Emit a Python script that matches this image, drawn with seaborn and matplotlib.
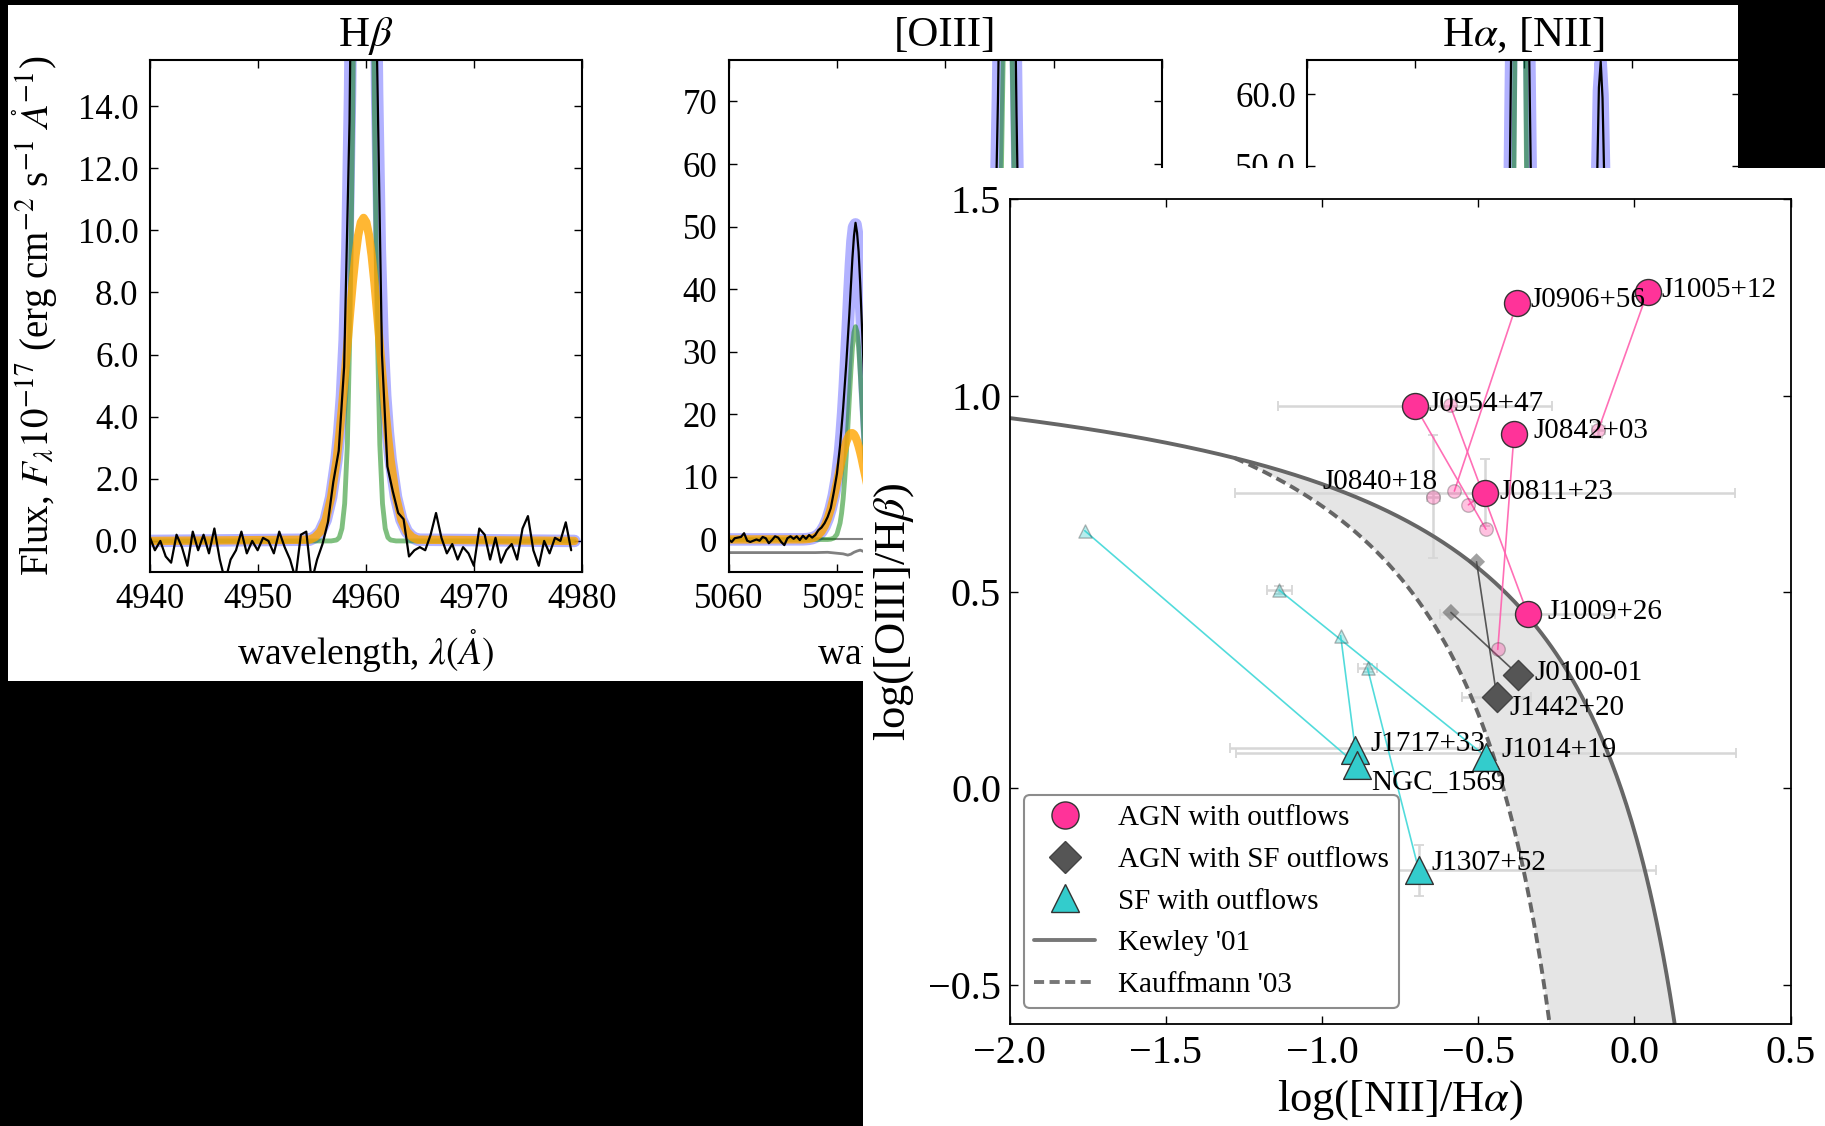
import numpy as np
import pandas as pd
import matplotlib
matplotlib.use("Agg")
import matplotlib.pyplot as plt
from matplotlib.patches import Rectangle
from matplotlib.lines import Line2D
from matplotlib.ticker import FormatStrFormatter
import seaborn as sns

# ======================= DATA =======================
# ---- H-beta panel ----
hb_data_wl = np.arange(4940.0, 4979.01, 0.5)
hb_data_flux = [0.15, -0.3, 0.0, -0.5, -0.7, 0.2, -0.2, -0.8, 0.3, -0.3,
                0.2, -0.4, 0.4, -0.6, -1.3, -0.6, -0.3, 0.3, -0.4, 0.0,
                -0.3, 0.1, 0.0, -0.4, 0.3, -0.2, -0.6, -1.2, 0.2, 0.3,
                -1.3, -0.6, -0.1, 0.6, 1.9, 2.9, 5.6, 13.5, 30.0, 48.0,
                53.0, 40.0, 16.5, 6.0, 2.4, 1.6, 0.9, 0.7, -0.5, -0.3,
                -0.2, -0.3, 0.2, 0.9, 0.1, -0.4, -0.1, -0.6, -0.2, -0.4,
                -0.8, 0.4, 0.2, -0.6, 0.1, -0.7, -0.3, -0.1, -0.6, 0.4,
                0.8, -0.3, -0.8, 0.0, -0.4, 0.1, 0.0, 0.6, -0.3]
hb_model_wl = [4940.0, 4954.8, 4955.3, 4955.8, 4956.3, 4956.8, 4957.3, 4957.55,
               4957.8, 4958.05, 4958.3, 4958.55, 4958.8, 4959.05, 4959.3, 4959.55,
               4959.8, 4960.05, 4960.3, 4960.55, 4960.8, 4961.05, 4961.3, 4961.55,
               4961.8, 4962.05, 4962.3, 4962.8, 4963.3, 4963.8, 4964.3, 4964.8, 4979.3]
hb_total = [0.0, 0.04, 0.12, 0.30, 0.68, 1.41, 2.62, 3.49, 4.67, 6.47, 9.41, 14.45,
            22.13, 32.28, 43.34, 52.06, 55.40, 52.06, 43.34, 32.28, 22.13, 14.45,
            9.41, 6.47, 4.67, 3.49, 2.62, 1.41, 0.68, 0.30, 0.12, 0.04, 0.0]
hb_narrow = [0, 0, 0, 0, 0, 0, 0.03, 0.11, 0.40, 1.2, 3.1, 7.1, 13.8, 23.1, 33.5, 41.8,
             45.0, 41.8, 33.5, 23.1, 13.8, 7.1, 3.1, 1.2, 0.40, 0.11, 0.03, 0, 0, 0, 0, 0, 0]
hb_broad = [0.0, 0.04, 0.12, 0.30, 0.68, 1.41, 2.59, 3.38, 4.27, 5.27, 6.31, 7.35,
            8.33, 9.18, 9.84, 10.26, 10.40, 10.26, 9.84, 9.18, 8.33, 7.35, 6.31, 5.27,
            4.27, 3.38, 2.59, 1.41, 0.68, 0.30, 0.12, 0.04, 0.0]

# ---- [OIII] panel ----
oiii_data_wl = [5060, 5061, 5062, 5063, 5064, 5065, 5066, 5067, 5068, 5069, 5070,
                5071, 5072, 5073, 5074, 5075, 5076, 5077, 5078, 5079, 5080, 5081,
                5082, 5083, 5084, 5085, 5086, 5087, 5088, 5089, 5090, 5091, 5092,
                5093, 5094, 5095, 5096, 5097, 5098, 5099, 5100, 5100.5, 5101, 5101.5,
                5102, 5102.5, 5103, 5103.5, 5104, 5105, 5106,
                5143, 5144, 5145, 5146, 5147, 5148, 5149, 5150, 5151, 5152, 5153,
                5154, 5155, 5156, 5157]
oiii_data_flux = [0.0, -0.4, 0.2, 0.3, 0.4, 1.0, -0.2, -0.4, -0.2, 0.0, -0.2,
                  0.4, 0.2, -0.6, -0.1, 0.5, 0.3, -0.4, -0.9, 0.2, 0.5, 0.1,
                  0.5, -0.1, 0.6, 0.1, 0.7, 0.3, 0.7, 1.5, 1.9, 2.6, 3.6,
                  5.0, 7.6, 10.5, 15.0, 21.0, 28.0, 36.0, 45.0, 48.5, 50.6, 49.0,
                  46.0, 41.0, 35.0, 29.0, 23.5, 14.0, 8.5,
                  18, 25, 33, 45, 70, 104, 135, 150, 140, 108, 68,
                  38, 22, 13, 8]
oiii_model_wl = [5060, 5084, 5085, 5086, 5087, 5088, 5089, 5090, 5091, 5092, 5093,
                 5094, 5095, 5096, 5096.5, 5097, 5097.5, 5098, 5098.5, 5099, 5099.5,
                 5100, 5100.5, 5101, 5101.5, 5102, 5102.5, 5103, 5103.5, 5104, 5105, 5106]
oiii_broad = [0.0, 0.02, 0.05, 0.1, 0.2, 0.39, 0.73, 1.27, 2.1, 3.3, 4.9, 6.85, 9.1,
              11.5, 12.7, 13.75, 14.7, 15.6, 16.2, 16.7, 16.97, 16.98, 16.8, 16.35,
              15.7, 14.9, 13.95, 12.9, 11.7, 10.55, 8.2, 6.0]
oiii_total_wl = oiii_model_wl + [5144, 5145, 5146, 5146.5, 5147, 5147.5, 5148, 5149,
                                 5150, 5151, 5152, 5152.5, 5153, 5153.5, 5154, 5155, 5156]
oiii_total = [0.0, 0.02, 0.05, 0.1, 0.2, 0.39, 0.73, 1.27, 2.1, 3.3, 4.95, 7.07, 9.93,
              14.1, 16.9, 20.25, 24.3, 29.0, 34.0, 39.2, 43.87, 47.68, 49.9, 50.35,
              48.8, 45.6, 40.85, 35.4, 29.5, 23.95, 14.7, 8.6,
              26, 35, 48, 58, 71, 87, 104, 134, 149, 141, 110, 88, 69, 53, 40, 23, 13]
oiii_narrow_wl = oiii_model_wl + [5144.15, 5145.15, 5146.15, 5146.65, 5147.15, 5147.65,
                                  5148.15, 5148.65, 5149.15, 5149.65, 5150.15, 5150.65,
                                  5151.15, 5151.65, 5152.15, 5152.65, 5153.15, 5153.65,
                                  5154.15, 5155.15, 5156.15]
oiii_narrow = [0, 0, 0, 0, 0, 0, 0, 0, 0, 0, 0.05, 0.22, 0.83, 2.6, 4.2, 6.5, 9.6, 13.4,
               17.8, 22.5, 26.9, 30.7, 33.1, 34.0, 33.1, 30.7, 26.9, 22.5, 17.8, 13.4, 6.5, 2.6,
               0.9, 3.9, 12.6, 20.5, 31.3, 44.7, 60.0, 75.4, 88.7, 97.8, 101.0, 97.8,
               88.7, 75.4, 60.0, 44.7, 31.3, 20.5, 12.6, 3.9, 0.9]
oiii_resid_wl = [5060, 5070, 5080, 5088, 5092, 5095, 5097, 5098.5, 5099.5, 5100.5,
                 5101.5, 5102.5, 5103.5, 5105, 5110]
oiii_resid = [-2.1, -2.1, -2.1, -2.1, -2.05, -2.2, -2.3, -2.5, -2.35, -2.05,
              -1.85, -1.7, -1.9, -2.1, -2.1]

# ---- H-alpha, [NII] panel ----
ha_wl = [6660, 6700, 6709.1, 6711.1, 6713.1, 6714.1, 6715.1, 6715.6, 6716.1, 6716.6,
         6717.1, 6717.6, 6718.1, 6718.6, 6719.1, 6719.6, 6720.1, 6720.6, 6721.1, 6721.6,
         6722.1, 6722.6, 6723.1, 6724.1, 6725.1, 6727.1, 6730, 6736, 6737.4, 6738.4,
         6739.4, 6739.9, 6740.4, 6740.9, 6741.4, 6741.9, 6742.4, 6742.9, 6743.4, 6744.4,
         6745.4, 6750, 6780]
ha_total = [0.5, 1, 1, 2, 5, 10, 20, 30, 45, 66, 95, 130, 170, 205, 220, 205, 170, 130,
            95, 66, 45, 30, 20, 10, 5, 2, 1.5, 2, 2, 5, 20, 33.5, 48.5, 60.5, 64.5, 60,
            48, 33, 20, 5, 1.5, 1, 0.5]
ha_data = [0.3, 1.2, 0.8, 2.3, 4.6, 10.5, 19, 31, 44, 67, 96, 128, 172, 204, 222, 203,
           168, 131, 93, 65, 46, 29, 21, 9.5, 5.4, 2.2, 1.2, 2.3, 1.8, 5.3, 19.5, 34, 48,
           61, 64.6, 59.5, 47.5, 33.5, 19.5, 5.2, 1.8, 0.8, 0.6]
ha_narrow_wl = [6660, 6715.1, 6715.6, 6716.1, 6716.6, 6717.1, 6717.6, 6718.1, 6718.6,
                6719.1, 6719.6, 6720.1, 6720.6, 6721.1, 6721.6, 6722.1, 6722.6, 6723.1, 6780]
ha_narrow = [0, 0, 1.5, 5, 14, 33, 64, 102.8, 136.5, 150, 136.5, 102.8, 64, 33, 14, 5,
             1.5, 0, 0]

# ---- BPT diagram ----
agn_names = ['J1005+12', 'J0906+56', 'J0954+47', 'J0842+03', 'J0811+23', 'J1009+26']
agn_x = [0.043, -0.375, -0.702, -0.385, -0.479, -0.341]
agn_y = [1.265, 1.237, 0.974, 0.902, 0.753, 0.444]
agn_alt_x = [-0.115, -0.576, -0.475, -0.437, -0.531, -0.590]
agn_alt_y = [0.913, 0.757, 0.660, 0.354, 0.722, 0.976]
extra_name = 'J0840+18'
extra_x = [-0.643]
extra_y = [0.743]

agnsf_names = ['J0100-01', 'J1442+20']
agnsf_x = [-0.371, -0.440]
agnsf_y = [0.289, 0.233]
agnsf_alt_x = [-0.587, -0.505]
agnsf_alt_y = [0.448, 0.577]

sf_names = ['J1717+33', 'NGC_1569', 'J1014+19', 'J1307+52']
sf_x = [-0.893, -0.887, -0.475, -0.690]
sf_y = [0.098, 0.059, 0.081, -0.208]
sf_alt_x = [-0.940, -1.759, -1.137, -0.854]
sf_alt_y = [0.389, 0.656, 0.505, 0.306]

# error bars: x, y, xerr, yerr
err_x = [-0.479, -0.702, -0.643, -0.341, -0.440, -0.893, -0.475, -0.690, -1.137, -0.854, -0.115]
err_y = [0.753, 0.974, 0.743, 0.444, 0.233, 0.102, 0.089, -0.208, 0.505, 0.306, 0.913]
err_xe = [0.80, 0.44, 0.02, 0.28, 0.11, 0.40, 0.80, 0.76, 0.04, 0.03, 0.02]
err_ye = [0.085, 0.01, 0.157, 0.01, 0.02, 0.01, 0.01, 0.065, 0.01, 0.01, 0.02]

# demarcation relations  y = a / (x - b) + c
kewley_abc = (0.61, 0.47, 1.19)
kauff_abc = (0.61, 0.05, 1.30)

legend_labels = ['AGN with outflows', 'AGN with SF outflows', 'SF with outflows',
                 "Kewley '01", "Kauffmann '03"]

# ======================= STYLE =======================
sns.set_style("ticks")
plt.rcParams['font.family'] = ['Liberation Serif', 'DejaVu Serif']
plt.rcParams['mathtext.fontset'] = 'stix'
plt.rcParams.update({'axes.edgecolor': 'black', 'xtick.color': 'black',
                     'ytick.color': 'black', 'axes.labelcolor': 'black',
                     'text.color': 'black'})

PINK = '#ff3399'
CYAN = '#33cccc'
DGRAY = '#555555'

W, H = 1825, 1126
fig = plt.figure(figsize=(W / 100, H / 100), dpi=100)
fig.patch.set_facecolor('black')


def frac(x0, y0, x1, y1):
    return [x0 / W, 1 - y1 / H, (x1 - x0) / W, (y1 - y0) / H]


def rect(x0, y0, x1, y1, color, z):
    fig.add_artist(Rectangle((x0 / W, 1 - y1 / H), (x1 - x0) / W, (y1 - y0) / H,
                             transform=fig.transFigure, facecolor=color,
                             edgecolor='none', zorder=z))


# white background of the spectra figure
rect(8, 5, 1738, 681, 'white', -5)


def style_spec(ax):
    ax.tick_params(direction='in', top=True, right=True, length=6, width=1,
                   labelsize=25)
    ax.tick_params(axis='y', pad=8)
    ax.tick_params(axis='x', pad=8)
    for s in ax.spines.values():
        s.set_linewidth(1.5)
        s.set_color('black')


def draw_lines(ax, tot_wl, tot, nar_wl, nar, bro_wl, bro, dat_wl, dat):
    sns.lineplot(x=tot_wl, y=tot, ax=ax, color='blue', alpha=0.3, linewidth=9,
                 estimator=None, sort=False)
    sns.lineplot(x=nar_wl, y=nar, ax=ax, color='green', alpha=0.5, linewidth=3.5,
                 estimator=None, sort=False)
    if bro_wl is not None:
        sns.lineplot(x=bro_wl, y=bro, ax=ax, color='orange', alpha=0.8, linewidth=6,
                     estimator=None, sort=False)
    sns.lineplot(x=dat_wl, y=dat, ax=ax, color='black', linewidth=1.6,
                 estimator=None, sort=False)


xlab = r'wavelength, $\lambda(\mathring{A})$'

# ---- H-beta ----
ax1 = fig.add_axes(frac(149.5, 59.5, 582, 572))
draw_lines(ax1, hb_model_wl, hb_total, hb_model_wl, hb_narrow, hb_model_wl, hb_broad,
           hb_data_wl, hb_data_flux)
ax1.set_xlim(4940, 4980)
ax1.set_ylim(-1.0, 15.5)
ax1.set_xticks([4940, 4950, 4960, 4970, 4980])
ax1.set_yticks(np.arange(0, 15, 2))
ax1.yaxis.set_major_formatter(FormatStrFormatter('%.1f'))
style_spec(ax1)
ax1.set_title(r'H$\beta$', fontsize=31, pad=10)
ax1.set_xlabel(xlab, fontsize=27)
ax1.xaxis.set_label_coords(0.5, -0.108)
ax1.set_ylabel(r'Flux, $F_{\lambda}10^{-17}$ (erg cm$^{-2}$ s$^{-1}$ $\mathring{A}^{-1}$)',
               fontsize=28)
ax1.yaxis.set_label_coords(-0.207, 0.5)

# ---- [OIII] ----
ax2 = fig.add_axes(frac(728.6, 59.5, 1162, 572))
ax2.axhline(0, color='gray', linewidth=1.5, zorder=1)
sns.lineplot(x=oiii_resid_wl, y=oiii_resid, ax=ax2, color='gray', linewidth=2,
             estimator=None, sort=False)
draw_lines(ax2, oiii_total_wl, oiii_total, oiii_narrow_wl, oiii_narrow,
           oiii_model_wl, oiii_broad, oiii_data_wl, oiii_data_flux)
ax2.set_xlim(5060, 5200)
ax2.set_ylim(-5.2, 76.7)
ax2.set_xticks([5060, 5095, 5130, 5165, 5200])
ax2.set_yticks(np.arange(0, 71, 10))
style_spec(ax2)
ax2.set_title('[OIII]', fontsize=31, pad=10)
ax2.set_xlabel(xlab, fontsize=27)
ax2.xaxis.set_label_coords(0.5, -0.108)
ax2.set_ylabel('')

# ---- H-alpha ----
ax3 = fig.add_axes(frac(1307, 59.5, 1740, 572))
draw_lines(ax3, ha_wl, ha_total, ha_narrow_wl, ha_narrow, None, None, ha_wl, ha_data)
ax3.set_xlim(6660, 6780)
ax3.set_ylim(-6.9, 64.9)
ax3.set_xticks([6660, 6690, 6720, 6750, 6780])
ax3.set_yticks(np.arange(0, 61, 10))
ax3.yaxis.set_major_formatter(FormatStrFormatter('%.1f'))
style_spec(ax3)
ax3.set_title(r'H$\alpha$, [NII]', fontsize=31, pad=10)
ax3.set_xlabel(xlab, fontsize=27)
ax3.set_ylabel('')

# overlaid second image (BPT) and black corner
rect(863, 168, 1825, 1126, 'white', 1)
rect(1738, 0, 1825, 168, 'black', 1)

# ======================= BPT =======================
ax = fig.add_axes(frac(1009.5, 199.3, 1790.5, 1024))
ax.set_zorder(2)
ax.set_facecolor('white')


def demarc(abc, x):
    a, b, c = abc
    return a / (x - b) + c


kew_x = np.linspace(-2.0, 0.13, 400)
kau_x = np.linspace(-1.28, -0.26, 300)
fill_x = np.linspace(-1.28, 0.13, 400)
fill_lo = np.where(fill_x < 0.0, demarc(kauff_abc, np.minimum(fill_x, -0.01)), -5.0)
ax.fill_between(fill_x, fill_lo, demarc(kewley_abc, fill_x), color='#e5e5e5',
                linewidth=0, zorder=0.5)

ax.errorbar(err_x, err_y, xerr=err_xe, yerr=err_ye, fmt='none', ecolor='#d7d7d7',
            elinewidth=1.8, capsize=3.5, capthick=1.3, zorder=1)

sns.lineplot(x=kew_x, y=demarc(kewley_abc, kew_x), ax=ax, color='#666666',
             linewidth=2.8, estimator=None, sort=False, zorder=1.5)
sns.lineplot(x=kau_x, y=demarc(kauff_abc, kau_x), ax=ax, color='#666666',
             linewidth=2.8, linestyle=(0, (2.6, 1.4)), estimator=None, sort=False,
             zorder=1.5)


def connectors(xs, ys, axs, ays, color, alpha):
    rows = []
    for i in range(len(xs)):
        rows.append({'pair': i, 'order': 0, 'x': axs[i], 'y': ays[i]})
        rows.append({'pair': i, 'order': 1, 'x': xs[i], 'y': ys[i]})
    df = pd.DataFrame(rows)
    sns.lineplot(data=df, x='x', y='y', units='pair', estimator=None, sort=False,
                 color=color, alpha=alpha, linewidth=1.2, ax=ax, zorder=2)


connectors(agn_x, agn_y, agn_alt_x, agn_alt_y, '#ff5fae', 0.9)
connectors(agnsf_x, agnsf_y, agnsf_alt_x, agnsf_alt_y, '#333333', 0.8)
connectors(sf_x, sf_y, sf_alt_x, sf_alt_y, '#3fd8d8', 0.9)

# faded markers
sns.scatterplot(x=agn_alt_x + extra_x, y=agn_alt_y + extra_y, ax=ax, color=PINK,
                marker='o', s=95, alpha=0.3, edgecolor='#333333', linewidth=1, zorder=3)
sns.scatterplot(x=agnsf_alt_x, y=agnsf_alt_y, ax=ax, color=DGRAY, marker='D', s=75,
                alpha=0.55, edgecolor='none', linewidth=0, zorder=3)
sns.scatterplot(x=sf_alt_x, y=sf_alt_y, ax=ax, color=CYAN, marker='^', s=90,
                alpha=0.35, edgecolor='#333333', linewidth=1, zorder=3)

# main markers
sns.scatterplot(x=agn_x, y=agn_y, ax=ax, color=PINK, marker='o', s=350,
                edgecolor='#333333', linewidth=1, zorder=4)
sns.scatterplot(x=agnsf_x, y=agnsf_y, ax=ax, color=DGRAY, marker='D', s=235,
                edgecolor='#444444', linewidth=1, zorder=4)
sns.scatterplot(x=sf_x, y=sf_y, ax=ax, color=CYAN, marker='^', s=400,
                edgecolor='#333333', linewidth=1, zorder=4)

# labels (offsets in points)
agn_off = [(10, -4), (9.7, -3), (9.4, -4), (14, -3), (10.4, -4.4), (14, -3.4)]
agnsf_off = [(11.5, -3.6), (9.3, -13.4)]
sf_off = [(10.8, -1), (10, -18), (11.3, 0), (9.2, 0)]
for names, xs, ys, offs in [(agn_names, agn_x, agn_y, agn_off),
                            (agnsf_names, agnsf_x, agnsf_y, agnsf_off),
                            (sf_names, sf_x, sf_y, sf_off)]:
    for n, x, y, o in zip(names, xs, ys, offs):
        ax.annotate(n, (x, y), xytext=o, textcoords='offset points', fontsize=21,
                    ha='left', va='baseline', zorder=6)
ax.annotate(extra_name, (extra_x[0], extra_y[0]), xytext=(3, 5.2),
            textcoords='offset points', fontsize=21, ha='right', va='baseline', zorder=6)

ax.set_xlim(-2.0, 0.5)
ax.set_ylim(-0.6, 1.5)
ax.set_xticks([-2.0, -1.5, -1.0, -0.5, 0.0, 0.5])
ax.set_yticks([-0.5, 0.0, 0.5, 1.0, 1.5])
ax.tick_params(direction='in', top=True, right=True, length=6, width=1, labelsize=29)
ax.tick_params(axis='y', pad=6)
ax.tick_params(axis='x', pad=8)
for s in ax.spines.values():
    s.set_linewidth(1.3)
    s.set_color('black')
ax.set_xlabel(r'log([NII]/H$\alpha$)', fontsize=32)
ax.xaxis.set_label_coords(0.5, -0.066)
ax.set_ylabel(r'log([OIII]/H$\beta$)', fontsize=32)
ax.yaxis.set_label_coords(-0.12, 0.5)

handles = [
    Line2D([], [], ls='none', marker='o', ms=19.5, mfc=PINK, mec='#333333', mew=1),
    Line2D([], [], ls='none', marker='D', ms=16, mfc=DGRAY, mec='#444444', mew=1),
    Line2D([], [], ls='none', marker='^', ms=20, mfc=CYAN, mec='#333333', mew=1),
    Line2D([], [], color='#777777', lw=2.8),
    Line2D([], [], color='#777777', lw=2.8, ls=(0, (2.6, 1.4))),
]
leg = ax.legend(handles, legend_labels, loc='lower left', bbox_to_anchor=(0.0186, 0.0194),
                borderaxespad=0, fontsize=21, frameon=True, fancybox=True,
                edgecolor='#8c8c8c', framealpha=1, handlelength=2.1,
                handletextpad=0.78, borderpad=0.35, labelspacing=0.52, numpoints=1)
leg.get_frame().set_linewidth(1.5)
leg.set_zorder(10)

fig.savefig('out.png', dpi=100, facecolor='black')
